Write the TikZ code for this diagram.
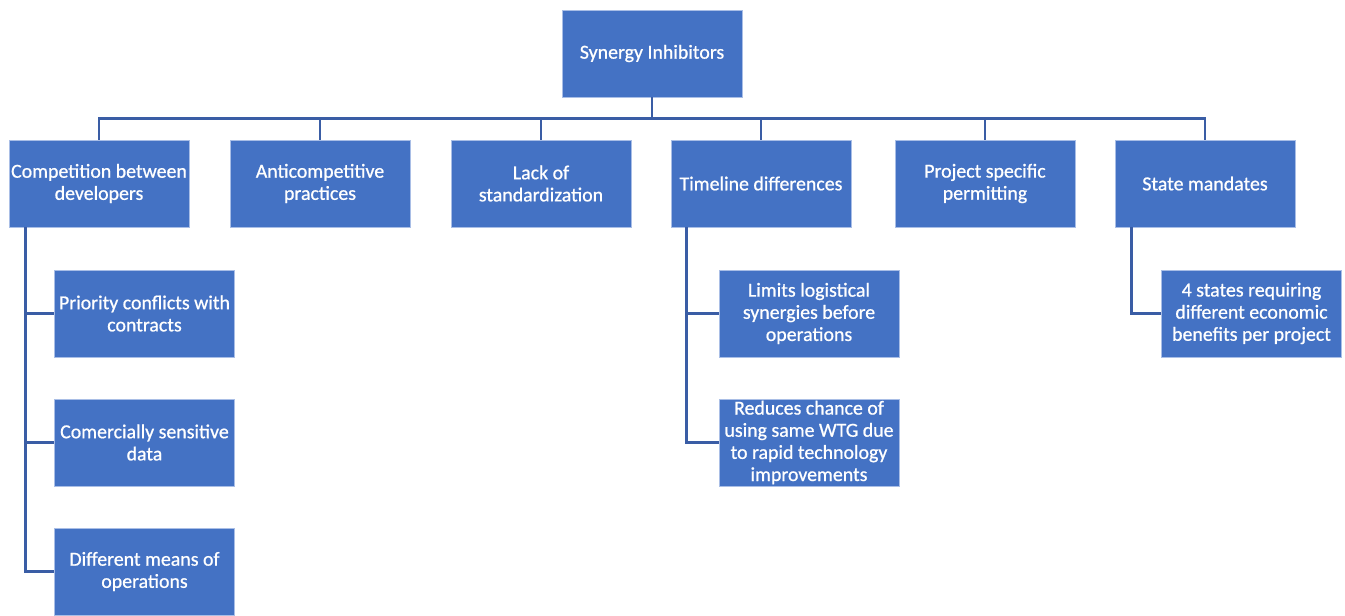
\documentclass[tikz,border=0pt]{standalone}
\usepackage{fontspec}
\setmainfont{Carlito}
\newfontfamily\boxfont{Carlito}[FakeBold=0.8]
\usetikzlibrary{positioning}

\definecolor{boxblue}{HTML}{4472C4}
\definecolor{boxedge}{HTML}{A9BEE6}
\definecolor{linkblue}{HTML}{3A5DA5}

\begin{document}
\begin{tikzpicture}[
    x=0.2mm, y=-0.2mm,
    block/.style={
        rectangle,
        draw=boxedge,
        line width=0.5pt,
        fill=boxblue,
        text=white,
        minimum width=36mm,
        minimum height=17.4mm,
        inner sep=0.2mm,
        align=center,
        font=\boxfont\fontsize{11.3}{12.6}\selectfont,
    },
    link/.style={
        draw=linkblue,
        line width=1.5pt,
    }
]
    \useasboundingbox (0,0) rectangle (1345,616);

    % Root
    \node[block] (root) at (652,53.5) {Synergy Inhibitors};

    % First level
    \node[block] (comp) at (99,183.5) {Competition between\\developers};
    \node[block] (anti) at (320,183.5) {Anticompetitive\\practices};
    \node[block] (lack) at (541,183.5) {Lack of\\standardization};
    \node[block] (time) at (761,183.5) {Timeline differences};
    \node[block] (perm) at (985,183.5) {Project specific\\permitting};
    \node[block] (state) at (1205,183.5) {State mandates};

    % Second level
    \node[block] (prio) at (144.5,313.5) {Priority conflicts with\\contracts};
    \node[block] (data) at (144.5,442.5) {Comercially sensitive\\data};
    \node[block] (means) at (144.5,571.5) {Different means of\\operations};
    \node[block] (logi) at (809,313.5) {Limits logistical\\synergies before\\operations};
    \node[block] (wtg) at (809,442.5) {Reduces chance of\\using same WTG due\\to rapid technology\\improvements};
    \node[block] (benef) at (1251.5,313.5) {4 states requiring\\different economic\\benefits per project};

    % Connectors
    \foreach \n in {comp,anti,lack,time,perm,state}
        \draw[link] (root.south) -- ++(0,21) -| (\n.north);
    \foreach \n in {prio,data,means}
        \draw[link] ([xshift=3.4mm]comp.south west) |- (\n.west);
    \foreach \n in {logi,wtg}
        \draw[link] ([xshift=3.2mm]time.south west) |- (\n.west);
    \draw[link] ([xshift=3.4mm]state.south west) |- (benef.west);
\end{tikzpicture}
\end{document}
